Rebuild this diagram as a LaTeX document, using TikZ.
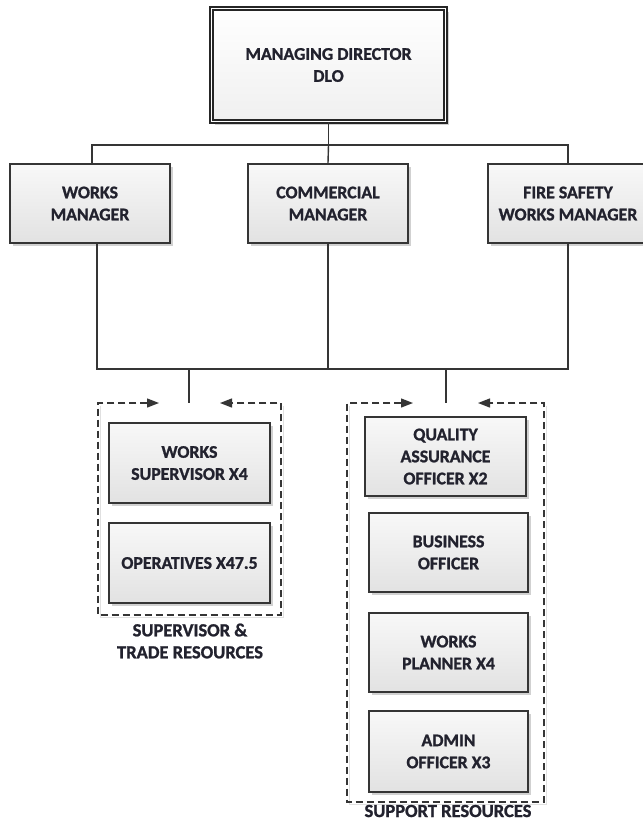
\documentclass[tikz,border=0pt]{standalone}
\usepackage{fontspec}
\setmainfont{Carlito}[BoldFeatures={FakeBold=1.2}]
\usetikzlibrary{arrows.meta,shadows}
\definecolor{ln}{HTML}{353535}
\definecolor{txt}{HTML}{22222E}
\definecolor{ftop}{HTML}{F8F8F8}
\definecolor{fbot}{HTML}{E2E2E2}
\tikzset{
  x=1pt,y=-1pt,
  boxtext/.style={font=\bfseries\fontsize{17.8}{22}\selectfont, text=txt, align=center},
  orgbox/.style={boxtext, draw=ln, line width=1.7pt, top color=ftop, bottom color=fbot,
     inner sep=0pt, drop shadow={shadow xshift=3pt, shadow yshift=-3pt, fill=black!18, opacity=1}},
  topbox/.style={orgbox, draw=black!85, double=white, double distance=1.8pt, line width=1.9pt,
     top color=white, bottom color=black!6},
  conn/.style={draw=ln, line width=1.4pt},
  grpframe/.style={draw=ln, line width=1.3pt, dash pattern=on 7pt off 4pt,
     {Triangle[length=12pt,width=9pt]}-{Triangle[length=12pt,width=9pt]}},
  grpshade/.style={draw=black!12, line width=1pt},
  grplabel/.style={boxtext, font=\bfseries\fontsize{18.5}{22}\selectfont}
}
\begin{document}
\begin{tikzpicture}
\useasboundingbox (0,0) rectangle (643,823);
\fill[white] (0,0) rectangle (643,823);

% boxes
\node[topbox, minimum width=234pt, minimum height=113pt] (md) at (328.5,65) {MANAGING DIRECTOR\\DLO};
\node[orgbox, minimum width=160pt, minimum height=79pt] (wm) at (90,203.5) {WORKS\\MANAGER};
\node[orgbox, minimum width=160pt, minimum height=79pt] (cm) at (328,203.5) {COMMERCIAL\\MANAGER};
\node[orgbox, minimum width=160pt, minimum height=79pt] (fs) at (568,203.5) {FIRE SAFETY\\WORKS MANAGER};

% group frames (shadow lines then dashed frames)
\coordinate (la) at (159,403); \coordinate (lb) at (220,403);
\coordinate (ra) at (413,403); \coordinate (rb) at (478,403);
\draw[grpshade] (100.5,405.5) -- (100.5,617.5) -- (283.5,617.5) -- (283.5,405.5);
\draw[grpshade] (349.5,405.5) -- (349.5,804.5) -- (546.5,804.5) -- (546.5,405.5);
\draw[grpframe] (la) -- (98,403) -- (98,615) -- (281,615) -- (281,403) -- (lb);
\draw[grpframe] (ra) -- (347,403) -- (347,802) -- (544,802) -- (544,403) -- (rb);

\node[orgbox, minimum width=161pt, minimum height=80pt] (ws) at (189.5,463) {WORKS\\SUPERVISOR X4};
\node[orgbox, minimum width=161pt, minimum height=80pt] (op) at (189.5,563) {OPERATIVES X47.5};
\node[orgbox, minimum width=161pt, minimum height=79pt] (qa) at (445.5,456.5) {QUALITY\\ASSURANCE\\OFFICER X2};
\node[orgbox, minimum width=159pt, minimum height=79pt] (bo) at (448.5,552.5) {BUSINESS\\OFFICER};
\node[orgbox, minimum width=159pt, minimum height=79pt] (wp) at (448.5,652.5) {WORKS\\PLANNER X4};
\node[orgbox, minimum width=159pt, minimum height=81pt] (ao) at (448.5,751.5) {ADMIN\\OFFICER X3};

% group labels
\node[grplabel] (lg) at (190,641) {SUPERVISOR \&\\TRADE RESOURCES};
\node[grplabel, anchor=base] (rg) at (448,817) {SUPPORT RESOURCES};

% connectors
\coordinate (bus1) at (328.5,145);
\coordinate (bus2) at (328,369);
\coordinate (dl) at (189,403);
\coordinate (dr) at (446,403);
\draw[conn] (md.south) -- (bus1);
\draw[conn] ([xshift=2pt]wm.north) |- (bus1) -| (fs.north);
\draw[conn] (bus1) -- (cm.north);
\draw[conn] ([xshift=7pt]wm.south) |- (bus2) -| (fs.south);
\draw[conn] (cm.south) -- (bus2);
\draw[conn] (dl |- bus2) -- (dl);
\draw[conn] (dr |- bus2) -- (dr);
\end{tikzpicture}
\end{document}
